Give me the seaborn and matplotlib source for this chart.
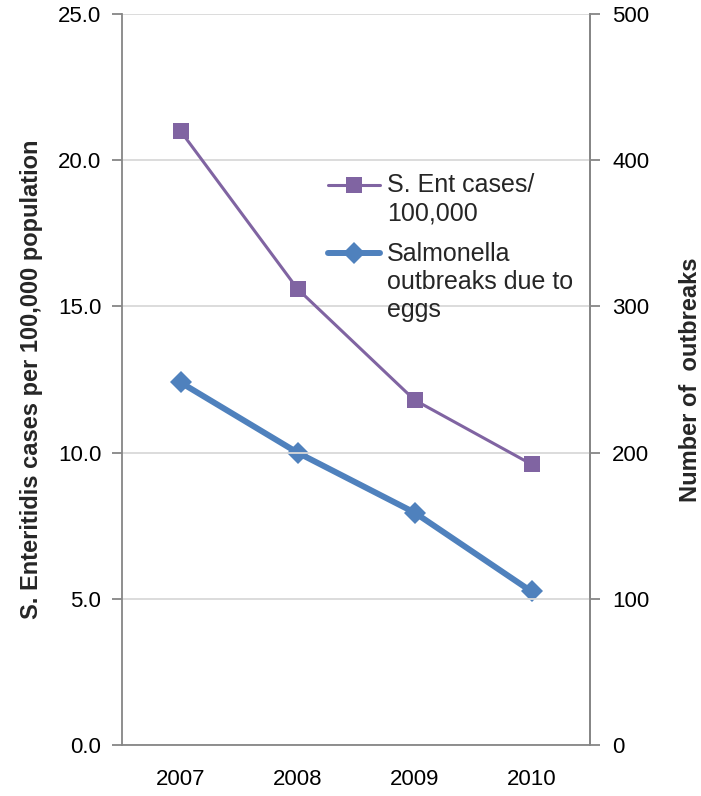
import matplotlib
matplotlib.use("Agg")
import matplotlib.pyplot as plt
import seaborn as sns
import pandas as pd
import numpy as np
from matplotlib.lines import Line2D

years = ["2007", "2008", "2009", "2010"]
sent_cases = [21.0, 15.6, 11.8, 9.6]          # per 100,000 (left axis)
outbreaks = [248, 200, 159, 105]             # number of outbreaks (right axis)
left_ticks = [0, 5, 10, 15, 20, 25]
right_ticks = [0, 100, 200, 300, 400, 500]

sns.set_theme(style="white")
plt.rcParams['font.family'] = ['Liberation Sans', 'DejaVu Sans']

purple = "#8064A2"
blue = "#4F81BD"
spine_c = "#868686"
grid_c = "#D9D9D9"
FS = 16
LFS = 18

df = pd.DataFrame({"pos": range(len(years)), "year": years,
                   "cases": sent_cases, "outbreaks": outbreaks})

fig = plt.figure(figsize=(7.01, 7.96), dpi=100)
ax = fig.add_axes([122/701, 1-745/796, (590-122)/701, (745-14)/796])
ax2 = ax.twinx()

sns.lineplot(data=df, x="pos", y="cases", ax=ax, color=purple, linewidth=2.2,
             marker="s", markersize=11, markeredgewidth=0, zorder=3)
sns.lineplot(data=df, x="pos", y="outbreaks", ax=ax2, color=blue, linewidth=4.3,
             marker="D", markersize=11, markeredgewidth=0, zorder=3)

ax.set_xlim(-0.5, len(years) - 0.5)
ax.set_ylim(0, 25)
ax2.set_ylim(0, 500)
ax.set_yticks(left_ticks)
ax.set_yticklabels([f"{v:.1f}" for v in left_ticks])
ax2.set_yticks(right_ticks)
ax2.set_yticklabels([str(v) for v in right_ticks])

ax.set_xticks(range(len(years)))
ax.set_xticklabels(years)
ax.set_xticks([i - 0.5 for i in range(len(years) + 1)], minor=True)
ax.tick_params(axis="x", which="major", length=0, pad=17, labelsize=FS, colors="black")
ax.tick_params(axis="x", which="minor", length=7, width=1.3, color=spine_c, direction="out")
ax.tick_params(axis="y", length=7, width=1.3, color=spine_c, direction="out", labelsize=FS, pad=8, labelcolor="black")
ax2.tick_params(axis="y", length=7, width=1.3, color=spine_c, direction="out", labelsize=FS, pad=9, labelcolor="black")

ax.grid(axis="y", color=grid_c, linewidth=1.3)
ax.set_axisbelow(True)

for a in (ax, ax2):
    a.spines["top"].set_visible(False)
    for s in ("left", "right", "bottom"):
        a.spines[s].set_color(spine_c)
        a.spines[s].set_linewidth(1.3)
ax2.spines["left"].set_visible(False)
ax2.spines["bottom"].set_visible(False)

ax.set_xlabel("")
ax.set_ylabel("S. Enteritidis cases per 100,000 population", fontsize=17,
              fontweight="bold", labelpad=10.5)
ax2.set_ylabel("Number of  outbreaks", fontsize=17, fontweight="bold", labelpad=21)
ax2.set_zorder(ax.zorder - 1)
ax.set_zorder(ax2.zorder + 1)
ax.patch.set_visible(False)
ax2.patch.set_visible(True)
ax2.patch.set_facecolor("white")

handles = [Line2D([], [], color=purple, linewidth=2.2, marker="s", markersize=11, markeredgewidth=0),
           Line2D([], [], color=blue, linewidth=4.3, marker="D", markersize=11, markeredgewidth=0)]
labels = ["S. Ent cases/\n100,000", "Salmonella\noutbreaks due to\neggs"]
if ax.get_legend():
    ax.get_legend().remove()
if ax2.get_legend():
    ax2.get_legend().remove()
leg = fig.legend(handles, labels, loc="upper left", bbox_to_anchor=(305/701, 1-151/796),
                 frameon=False, fontsize=LFS, handlelength=2.1, handletextpad=0.28,
                 labelspacing=0.68)
# align each handle with the first line of its (multi-line) label
line_pitch = 1.2 * LFS
for h, lab in zip(leg.legend_handles, labels):
    n = lab.count("\n") + 1
    shift = (n - 1) / 2 * line_pitch
    h.set_ydata(np.asarray(h.get_ydata()) + shift)

fig.savefig("out.png", dpi=100)
